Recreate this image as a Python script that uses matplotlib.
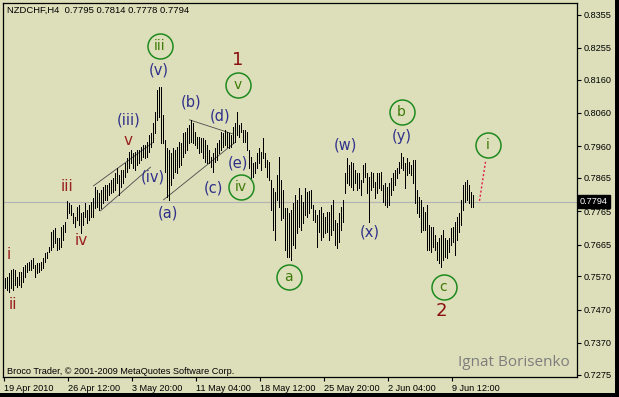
import matplotlib
matplotlib.use('Agg')
import matplotlib.pyplot as plt
import matplotlib.transforms as mtransforms
from matplotlib.patches import Rectangle
import numpy as np

# ---------------- data ----------------
symbol_text = "NZDCHF,H4  0.7795 0.7814 0.7778 0.7794"
last_price = 0.7794

highs = [
    # 19 Apr ->
    0.7565, 0.7568, 0.7580, 0.7589, 0.7592, 0.7589, 0.7568, 0.7583, 0.7583, 0.7598,
    0.7604, 0.7610, 0.7613, 0.7619, 0.7625, 0.7604, 0.7610, 0.7610, 0.7613, 0.7625,
    0.7640, 0.7643, 0.7658, 0.7703, 0.7709, 0.7715, 0.7685, 0.7685, 0.7718, 0.7724,
    0.7733, 0.7796, 0.7790, 0.7784, 0.7760, 0.7748, 0.7778, 0.7784, 0.7760, 0.7763,
    0.7790,
    0.7769, 0.7784, 0.7793, 0.7805, 0.7838, 0.7829, 0.7820, 0.7829, 0.7838, 0.7844,
    0.7844, 0.7850, 0.7859, 0.7865, 0.7880, 0.7895, 0.7874, 0.7889, 0.7889, 0.7910,
    0.7925, 0.7943, 0.7949, 0.7940, 0.7943, 0.7949, 0.7949, 0.7958, 0.7964, 0.7964,
    0.7973, 0.7994, 0.8000, 0.8030, 0.8063, 0.8129, 0.8138, 0.8138, 0.8054,
    0.7979, 0.7955, 0.7949, 0.7940, 0.7955, 0.7949, 0.7958, 0.7973, 0.7970, 0.8000,
    0.8003, 0.8015, 0.8024, 0.8039, 0.8030, 0.8003, 0.7988, 0.7988, 0.7985, 0.7985,
    0.7979, 0.7964, 0.7949, 0.7928, 0.7940, 0.7955, 0.7970, 0.7979, 0.8003, 0.8000,
    0.8009, 0.8003, 0.8000, 0.7994, 0.8018, 0.8030, 0.8063, 0.8024, 0.8030, 0.8009,
    0.8009, 0.8003, 0.7949, 0.7928, 0.7910, 0.7913, 0.7940, 0.7955, 0.7943, 0.7985,
    0.7940, 0.7919, 0.7913, 0.7859, 0.7835, 0.7823, 0.7874, 0.7928, 0.7859, 0.7829,
    0.7775, 0.7775, 0.7760, 0.7769, 0.7790, 0.7814, 0.7799, 0.7835, 0.7814, 0.7793,
    0.7835, 0.7823, 0.7826, 0.7829, 0.7784, 0.7769, 0.7754, 0.7769, 0.7778, 0.7760,
    0.7748, 0.7763, 0.7763, 0.7784, 0.7799, 0.7739, 0.7730, 0.7760, 0.7778, 0.7799,
    0.7880, 0.7925, 0.7904, 0.7913, 0.7910, 0.7889, 0.7880, 0.7880, 0.7859, 0.7904,
    0.7910, 0.7880, 0.7868, 0.7883, 0.7880, 0.7853, 0.7880, 0.7880, 0.7883, 0.7844,
    0.7850, 0.7838, 0.7850, 0.7865, 0.7880, 0.7889, 0.7895, 0.7913, 0.7940, 0.7928,
    0.7910, 0.7925, 0.7913, 0.7904, 0.7919, 0.7919, 0.7829, 0.7808, 0.7799, 0.7778,
    0.7763, 0.7784, 0.7724, 0.7718, 0.7718, 0.7694, 0.7673, 0.7685, 0.7694, 0.7709,
    0.7685, 0.7679, 0.7685, 0.7715, 0.7718, 0.7733, 0.7748, 0.7760, 0.7799, 0.7844,
    0.7853, 0.7859, 0.7844, 0.7823, 0.7814,
]

lows = [
    0.7535, 0.7529, 0.7523, 0.7535, 0.7529, 0.7544, 0.7538, 0.7544, 0.7538, 0.7553,
    0.7568, 0.7583, 0.7589, 0.7589, 0.7595, 0.7568, 0.7580, 0.7583, 0.7589, 0.7595,
    0.7613, 0.7625, 0.7643, 0.7649, 0.7658, 0.7670, 0.7649, 0.7652, 0.7658, 0.7679,
    0.7703, 0.7745, 0.7760, 0.7754, 0.7730, 0.7718, 0.7739, 0.7724, 0.7700, 0.7724,
    0.7748,
    0.7730, 0.7739, 0.7748, 0.7748, 0.7775, 0.7778, 0.7769, 0.7775, 0.7790, 0.7799,
    0.7799, 0.7814, 0.7820, 0.7823, 0.7829, 0.7850, 0.7814, 0.7838, 0.7850, 0.7868,
    0.7883, 0.7895, 0.7910, 0.7895, 0.7889, 0.7904, 0.7910, 0.7919, 0.7928, 0.7925,
    0.7928, 0.7943, 0.7958, 0.7973, 0.8000, 0.8039, 0.8048, 0.7970, 0.7970,
    0.7883, 0.7808, 0.7799, 0.7844, 0.7865, 0.7883, 0.7880, 0.7898, 0.7904, 0.7928,
    0.7940, 0.7949, 0.7970, 0.7973, 0.7970, 0.7964, 0.7955, 0.7940, 0.7943, 0.7925,
    0.7913, 0.7910, 0.7910, 0.7898, 0.7883, 0.7913, 0.7919, 0.7940, 0.7949, 0.7958,
    0.7964, 0.7958, 0.7955, 0.7958, 0.7970, 0.7973, 0.7994, 0.7988, 0.8003, 0.7973,
    0.7973, 0.7949, 0.7895, 0.7865, 0.7868, 0.7880, 0.7895, 0.7910, 0.7889, 0.7925,
    0.7898, 0.7868, 0.7859, 0.7769, 0.7709, 0.7679, 0.7799, 0.7778, 0.7739, 0.7745,
    0.7649, 0.7628, 0.7628, 0.7619, 0.7664, 0.7655, 0.7700, 0.7718, 0.7709, 0.7730,
    0.7754, 0.7748, 0.7760, 0.7775, 0.7739, 0.7733, 0.7658, 0.7703, 0.7679, 0.7688,
    0.7700, 0.7703, 0.7679, 0.7694, 0.7709, 0.7664, 0.7655, 0.7673, 0.7709, 0.7733,
    0.7820, 0.7850, 0.7844, 0.7838, 0.7829, 0.7850, 0.7829, 0.7835, 0.7814, 0.7853,
    0.7868, 0.7820, 0.7733, 0.7829, 0.7838, 0.7805, 0.7820, 0.7835, 0.7829, 0.7793,
    0.7784, 0.7778, 0.7784, 0.7814, 0.7829, 0.7844, 0.7865, 0.7880, 0.7895, 0.7889,
    0.7835, 0.7874, 0.7880, 0.7874, 0.7850, 0.7790, 0.7760, 0.7748, 0.7703, 0.7709,
    0.7709, 0.7649, 0.7649, 0.7643, 0.7658, 0.7649, 0.7619, 0.7610, 0.7598, 0.7619,
    0.7628, 0.7625, 0.7643, 0.7664, 0.7673, 0.7634, 0.7679, 0.7703, 0.7724, 0.7769,
    0.7793, 0.7799, 0.7790, 0.7778, 0.7778,
]

price_ticks = [0.8355, 0.8255, 0.8160, 0.8060, 0.7960, 0.7865,
               0.7765, 0.7665, 0.7570, 0.7470, 0.7370, 0.7275]
date_tick_bars = [-0.5, 31.5, 63.5, 95.5, 127.5, 159.5, 191.5, 223.5]
date_labels = ["19 Apr 2010", "26 Apr 12:00", "3 May 20:00", "11 May 04:00",
               "18 May 12:00", "25 May 20:00", "2 Jun 04:00", "9 Jun 12:00"]

# Elliott-wave annotations (bar index, price)
minor_labels = ['i', 'ii', 'iii', 'iv', 'v']
minor_x = [2, 4, 31, 38.5, 62]
minor_y = [0.7634, 0.7484, 0.7838, 0.7676, 0.7976]

degree_labels = ['1', '2']
degree_x = [116.5, 218.5]
degree_y = [0.8219, 0.7466]

paren_labels = ['(iii)', '(iv)', '(v)', '(a)', '(b)', '(c)', '(d)', '(e)', '(w)', '(y)', '(x)']
paren_x = [62, 74, 77, 81.5, 93.5, 104.5, 108, 116.5, 170.5, 198.5, 182.5]
paren_y = [0.8039, 0.7868, 0.8189, 0.7760, 0.8093, 0.7835, 0.8051, 0.7910, 0.7964, 0.7988, 0.7703]

circle_labels = ['iii', 'v', 'iv', 'a', 'b', 'c', 'i']
circle_x = [77.5, 116.5, 118, 142, 198.5, 219.5, 241.5]
circle_y = [0.8261, 0.8144, 0.7838, 0.7568, 0.8063, 0.7538, 0.7964]

channel_upper_x = [44.5, 74]
channel_upper_y = [0.7841, 0.7970]
channel_lower_x = [48, 73]
channel_lower_y = [0.7766, 0.7897]
triangle_upper_x = [92.5, 114]
triangle_upper_y = [0.8039, 0.7997]
triangle_lower_x = [79.5, 115]
triangle_lower_y = [0.7799, 0.7970]
projection_x = [237.5, 240.5]
projection_y = [0.7796, 0.7913]

# ---------------- styling ----------------
W, H = 619, 397
BG = '#dcdfba'
SMALL = 'Liberation Sans'
fig = plt.figure(figsize=(W / 100, H / 100), dpi=100, facecolor=BG)
ax = fig.add_axes([3 / W, 20 / H, 574 / W, 374 / H], facecolor=BG)

x = np.arange(len(highs))
ax.vlines(x, lows, highs, colors='black', linewidth=0.5, antialiased=False, zorder=3)

ax.set_xlim(-0.75, 286.25)
ax.set_ylim(0.72675, 0.83895)

for s in ax.spines.values():
    s.set_color('black')
    s.set_linewidth(0.9)

# current price line
ax.axhline(last_price, color='#b2b2b2', linewidth=0.8, zorder=1)

# y ticks on right
ax.yaxis.tick_right()
ax.set_yticks(price_ticks)
ax.set_yticklabels([f"{p:.4f}" for p in price_ticks], fontfamily=SMALL, fontsize=6.6)
ax.tick_params(axis='y', direction='out', length=3, width=0.8, pad=2, colors='black')

# x ticks
ax.set_xticks(date_tick_bars)
ax.set_xticklabels(date_labels, fontfamily=SMALL, fontsize=6.6)
ax.tick_params(axis='x', direction='out', length=3, width=0.8, pad=2, colors='black')
for lbl in ax.get_xticklabels():
    lbl.set_ha('left')

# current price box
trans = mtransforms.blended_transform_factory(ax.transAxes, ax.transData)
ax.text(1.0 + 3 / 574, last_price, f"{last_price:.4f}", transform=trans, color='white',
        fontfamily=SMALL, fontsize=6.6, va='center', ha='left', clip_on=False,
        bbox=dict(boxstyle='square,pad=0.25', fc='black', ec='black'), zorder=6)

# trend lines
for lx, ly in [(channel_upper_x, channel_upper_y), (channel_lower_x, channel_lower_y),
               (triangle_upper_x, triangle_upper_y), (triangle_lower_x, triangle_lower_y)]:
    ax.plot(lx, ly, color='#4a4a4a', linewidth=0.6, zorder=2)

ax.plot(projection_x, projection_y, color='#e0204a', linewidth=1.0,
        linestyle=(0, (1.5, 1.5)), zorder=4)

# labels
for t, lx, ly in zip(minor_labels, minor_x, minor_y):
    ax.text(lx, ly, t, color='#9a2020', fontsize=11, ha='center', va='center',
            fontfamily='DejaVu Sans', zorder=5)
for t, lx, ly in zip(degree_labels, degree_x, degree_y):
    ax.text(lx, ly, t, color='#8a0f0f', fontsize=13, ha='center', va='center',
            fontfamily='DejaVu Sans', zorder=5)
for t, lx, ly in zip(paren_labels, paren_x, paren_y):
    ax.text(lx, ly, t, color='#30308a', fontsize=10.5, ha='center', va='center',
            fontfamily='DejaVu Sans', zorder=5)
ax.plot(circle_x, circle_y, linestyle='none', marker='o', markersize=18,
        markerfacecolor='none', markeredgecolor='#1f8a1f', markeredgewidth=1.1, zorder=5)
for t, lx, ly in zip(circle_labels, circle_x, circle_y):
    ax.text(lx, ly, t, color='#3f7a08', fontsize=10, ha='center', va='center',
            fontfamily='DejaVu Sans', zorder=6)

# header / footer texts
ax.text(4 / 574, 1 - 7 / 374, symbol_text, transform=ax.transAxes, fontfamily=SMALL,
        fontsize=6.8, color='black', ha='left', va='center')
ax.text(4 / 574, 5 / 374, "Broco Trader, \u00a9 2001-2009 MetaQuotes Software Corp.",
        transform=ax.transAxes, fontfamily=SMALL, fontsize=6.6, color='black',
        ha='left', va='center')
ax.text(455 / 574, 15 / 374, "Ignat Borisenko", transform=ax.transAxes,
        fontfamily='Open Sans', fontsize=11, color='#7d7d7d', ha='left', va='center')

# window border (right and bottom)
fig.patches.append(Rectangle((615 / W, 0), 4 / W, 1, transform=fig.transFigure,
                             fc='black', ec='none'))
fig.patches.append(Rectangle((0, 0), 1, 4 / H, transform=fig.transFigure,
                             fc='black', ec='none'))

fig.savefig('out.png', dpi=100, facecolor=BG)
